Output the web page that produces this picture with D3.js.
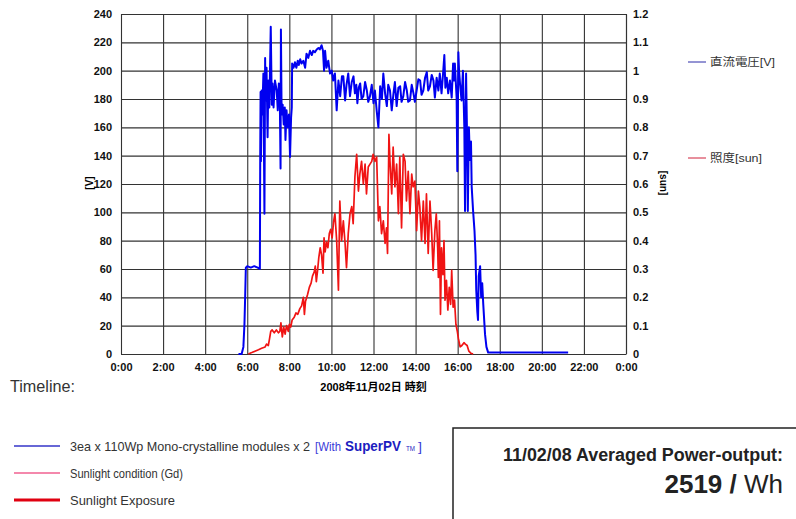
<!DOCTYPE html>
<html>
<head>
<meta charset="utf-8">
<script src="https://cdn.jsdelivr.net/npm/d3@7"></script>
<style>
  body { margin: 0; background: #fff; }
  svg { display: block; }
</style>
</head>
<body>
<div id="chart"></div>
<script>
// hour ticks (minutes from midnight) and their labels
const timeTicks = [0, 120, 240, 360, 480, 600, 720, 840, 960, 1080, 1200, 1320, 1440];
const timeLabels = ["0:00", "2:00", "4:00", "6:00", "8:00", "10:00", "12:00", "14:00", "16:00", "18:00", "20:00", "22:00", "0:00"];
const voltTicks = [0, 20, 40, 60, 80, 100, 120, 140, 160, 180, 200, 220, 240];
const sunTicks = [0, 0.1, 0.2, 0.3, 0.4, 0.5, 0.6, 0.7, 0.8, 0.9, 1, 1.1, 1.2];

// DC voltage [V], [minute, value]
const voltData = [
  [335, 0], [344, 0], [349, 5], [352, 21], [354, 40], [356, 61], [360, 62], [370, 61], [380, 62], [390, 61],
  [396, 60], [397, 140], [398, 185], [399, 136], [401, 186], [403, 169], [406, 198], [409, 99], [411, 209], [412, 179],
  [415, 202], [418, 153], [420, 193], [423, 174], [427, 231], [430, 176], [432, 191], [435, 174], [439, 193], [444, 186],
  [447, 172], [450, 191], [453, 176], [455, 131], [456, 229], [458, 169], [461, 176], [464, 162], [467, 174], [469, 151],
  [472, 172], [475, 160], [479, 169], [482, 139], [485, 167], [487, 174], [488, 205], [492, 202], [496, 206], [500, 202],
  [504, 207], [507, 204], [511, 208], [515, 205], [520, 207], [525, 202], [529, 212], [534, 209], [539, 214], [544, 211],
  [548, 214], [553, 213], [558, 215], [563, 216], [567, 215], [572, 218], [576, 214], [579, 200], [582, 214], [586, 202],
  [591, 207], [596, 198], [601, 200], [605, 193], [610, 198], [615, 172], [620, 193], [625, 182], [630, 196], [634, 196],
  [639, 179], [643, 190], [648, 198], [653, 182], [658, 192], [663, 196], [667, 184], [671, 190], [674, 177], [678, 188],
  [682, 191], [686, 180], [691, 182], [696, 192], [701, 186], [705, 178], [710, 182], [715, 190], [720, 177], [724, 186],
  [729, 172], [734, 160], [739, 189], [744, 180], [748, 198], [753, 184], [758, 175], [762, 190], [767, 186], [772, 172],
  [777, 184], [781, 192], [786, 175], [791, 188], [796, 189], [800, 178], [805, 182], [810, 192], [815, 186], [819, 178],
  [824, 179], [829, 190], [834, 184], [838, 178], [843, 186], [848, 194], [853, 193], [857, 183], [862, 186], [867, 195],
  [872, 199], [876, 186], [881, 189], [886, 197], [891, 193], [895, 181], [900, 195], [905, 186], [909, 198], [914, 184],
  [919, 200], [922, 211], [925, 188], [929, 195], [933, 184], [938, 193], [943, 181], [947, 205], [950, 193], [952, 205],
  [957, 181], [959, 129], [962, 213], [964, 200], [967, 190], [971, 179], [975, 200], [979, 160], [981, 101], [984, 198],
  [987, 150], [989, 101], [992, 160], [995, 137], [998, 150], [1000, 118], [1004, 101], [1008, 87], [1011, 70], [1013, 45],
  [1016, 30], [1018, 24], [1020, 55], [1024, 62], [1027, 40], [1030, 50], [1033, 35], [1038, 14], [1042, 5], [1047, 1],
  [1275, 1]
];

// irradiance [sun], [minute, value]
const sunData = [
  [363, 0], [373, 0.005], [382, 0.01], [392, 0.015], [401, 0.02], [411, 0.025], [415, 0.035], [420, 0.03], [423, 0.05], [427, 0.08],
  [431, 0.085], [437, 0.075], [443, 0.085], [449, 0.075], [453, 0.08], [456, 0.11], [460, 0.06], [464, 0.095], [468, 0.07], [472, 0.1],
  [477, 0.08], [480, 0.105], [484, 0.095], [488, 0.12], [494, 0.13], [499, 0.145], [504, 0.14], [510, 0.16], [515, 0.17], [520, 0.2],
  [523, 0.14], [526, 0.185], [532, 0.21], [537, 0.235], [542, 0.25], [546, 0.275], [551, 0.29], [554, 0.31], [557, 0.255], [561, 0.3],
  [564, 0.34], [568, 0.375], [572, 0.35], [576, 0.285], [579, 0.41], [582, 0.36], [586, 0.395], [590, 0.375], [594, 0.425], [598, 0.44],
  [602, 0.41], [606, 0.465], [610, 0.495], [615, 0.4], [620, 0.225], [624, 0.54], [629, 0.4], [634, 0.47], [639, 0.39], [643, 0.305],
  [648, 0.425], [653, 0.495], [658, 0.52], [662, 0.46], [667, 0.625], [672, 0.705], [677, 0.575], [681, 0.635], [686, 0.68], [691, 0.6],
  [696, 0.67], [700, 0.565], [705, 0.66], [710, 0.67], [715, 0.68], [719, 0.705], [724, 0.68], [729, 0.695], [734, 0.47], [738, 0.52],
  [743, 0.425], [748, 0.47], [753, 0.39], [757, 0.445], [760, 0.355], [764, 0.775], [767, 0.68], [772, 0.565], [776, 0.73], [781, 0.59],
  [786, 0.67], [791, 0.495], [795, 0.695], [800, 0.445], [805, 0.705], [810, 0.68], [814, 0.54], [819, 0.645], [824, 0.495], [829, 0.635],
  [833, 0.59], [838, 0.61], [843, 0.435], [848, 0.575], [852, 0.52], [857, 0.4], [862, 0.54], [867, 0.39], [871, 0.565], [876, 0.355],
  [881, 0.54], [886, 0.425], [890, 0.295], [895, 0.435], [899, 0.495], [903, 0.375], [905, 0.27], [908, 0.47], [911, 0.14], [914, 0.375],
  [918, 0.28], [921, 0.4], [924, 0.19], [928, 0.26], [932, 0.155], [936, 0.235], [940, 0.175], [943, 0.295], [947, 0.165], [951, 0.19],
  [955, 0.105], [959, 0.08], [962, 0.055], [967, 0.025], [972, 0.03], [978, 0.04], [982, 0.035], [987, 0.03], [992, 0.01], [998, 0.0025],
  [1004, 0]
];

const seriesNames = ["直流電圧[V]", "照度[sun]"];
const legendNotes = ["3ea x 110Wp Mono-crystalline modules x 2", "Sunlight condition (Gd)", "Sunlight  Exposure"];
const xTitle = "2008年11月02日 時刻";
const summaryTitle = "11/02/08 Averaged Power-output:";
const summaryValue = "2519";

const W = 796, H = 519;
const margin = { top: 14, right: 170, bottom: 165, left: 121 };
const plotW = W - margin.left - margin.right;
const plotH = H - margin.top - margin.bottom;

const font = "'Liberation Sans', Arial, sans-serif";
const cjk = "'Liberation Sans', 'Noto Sans CJK JP', sans-serif";

const svg = d3.select("#chart").append("svg")
  .attr("width", W)
  .attr("height", H)
  .style("font-family", font);

const g = svg.append("g").attr("transform", `translate(${margin.left},${margin.top})`);

const x = d3.scaleLinear([0, 1440], [0, plotW]);
const yL = d3.scaleLinear([0, 240], [plotH, 0]);
const yR = d3.scaleLinear([0, 1.2], [plotH, 0]);

// grid + axes
const left = g.append("g")
  .call(d3.axisLeft(yL).tickValues(voltTicks).tickSize(-plotW).tickPadding(9));
const bottom = g.append("g")
  .attr("transform", `translate(0,${plotH})`)
  .call(d3.axisBottom(x).tickValues(timeTicks).tickSize(-plotH).tickPadding(9)
    .tickFormat((d, i) => timeLabels[i]));
const right = g.append("g")
  .attr("transform", `translate(${plotW},0)`)
  .call(d3.axisRight(yR).tickValues(sunTicks).tickSize(0).tickPadding(7)
    .tickFormat(d => String(+d.toFixed(1))));

[left, bottom, right].forEach(a => {
  a.selectAll(".tick line").attr("stroke", "#333").attr("stroke-width", 1.1);
  a.selectAll(".domain").attr("stroke", "#333").attr("stroke-width", 1.1);
  a.selectAll("text")
    .attr("fill", "#111")
    .style("font-size", "11px")
    .style("font-weight", "bold")
    .style("font-family", font);
});
left.select(".domain").remove();
bottom.select(".domain").remove();

// axis titles
svg.append("text")
  .attr("transform", "translate(93,183) rotate(-90)")
  .attr("text-anchor", "middle")
  .style("font-size", "10px").style("font-weight", "bold")
  .text("[V]");
svg.append("text")
  .attr("transform", "translate(660,183) rotate(90)")
  .attr("text-anchor", "middle")
  .style("font-size", "10px").style("font-weight", "bold")
  .text("[sun]");
svg.append("text")
  .attr("x", margin.left + plotW / 2)
  .attr("y", 391)
  .attr("text-anchor", "middle")
  .style("font-family", cjk)
  .style("font-size", "11px").style("font-weight", "bold")
  .text(xTitle);

// series
const voltLine = d3.line().x(d => x(d[0])).y(d => yL(d[1]));
const sunLine = d3.line().x(d => x(d[0])).y(d => yR(d[1]));

g.append("path")
  .datum(voltData)
  .attr("d", voltLine)
  .attr("fill", "none")
  .attr("stroke", "#0000f0")
  .attr("stroke-width", 2)
  .attr("stroke-linejoin", "round");

g.append("path")
  .datum(sunData)
  .attr("d", sunLine)
  .attr("fill", "none")
  .attr("stroke", "#f01414")
  .attr("stroke-width", 1.7)
  .attr("stroke-linejoin", "round");

// series legend (right)
const legendColors = ["#2a2aa8", "#d0203a"];
const legendY = [62, 158];
const legendLen = [65, 52];
seriesNames.forEach((name, i) => {
  svg.append("line")
    .attr("x1", 688).attr("x2", 706)
    .attr("y1", legendY[i]).attr("y2", legendY[i])
    .attr("stroke", legendColors[i]).attr("stroke-width", 1);
  svg.append("text")
    .attr("x", 710).attr("y", legendY[i] + 4)
    .style("font-family", cjk)
    .style("font-size", "11px")
    .attr("fill", "#333")
    .attr("textLength", legendLen[i]).attr("lengthAdjust", "spacingAndGlyphs")
    .text(name);
});

// notes below
svg.append("text")
  .attr("x", 10).attr("y", 392)
  .style("font-size", "16px")
  .attr("fill", "#333")
  .attr("textLength", 65).attr("lengthAdjust", "spacingAndGlyphs")
  .text("Timeline:");

const noteColors = ["#3535c8", "#f06090", "#e00010"];
const noteWidths = [1.5, 1.5, 3];
const noteY = [446, 473, 500];
const noteLen = [240, 113, 105];
noteY.forEach((yy, i) => {
  svg.append("line")
    .attr("x1", 14).attr("x2", 60)
    .attr("y1", yy).attr("y2", yy)
    .attr("stroke", noteColors[i]).attr("stroke-width", noteWidths[i]);
  svg.append("text")
    .attr("x", 70).attr("y", yy + 5)
    .style("font-size", "13px")
    .attr("fill", "#333")
    .attr("textLength", noteLen[i]).attr("lengthAdjust", "spacingAndGlyphs")
    .text(legendNotes[i]);
});

// "[With SuperPV(TM)]" pieces of the first note
const brand = [
  { t: "[With", x0: 315, len: 26, size: 13, bold: false, c: "#3a3ad8" },
  { t: "SuperPV", x0: 345, len: 56, size: 15, bold: true, c: "#1c1cc0" },
  { t: "TM", x0: 406, len: 9, size: 7, bold: false, c: "#1c1cc0" },
  { t: "]", x0: 418, len: 4, size: 13, bold: false, c: "#3a3ad8" }
];
brand.forEach(b => {
  svg.append("text")
    .attr("x", b.x0).attr("y", noteY[0] + 5)
    .style("font-size", b.size + "px")
    .style("font-weight", b.bold ? "bold" : "normal")
    .attr("fill", b.c)
    .attr("textLength", b.len).attr("lengthAdjust", "spacingAndGlyphs")
    .text(b.t);
});

// summary box
svg.append("rect")
  .attr("x", 453).attr("y", 428)
  .attr("width", 400).attr("height", 200)
  .attr("fill", "none")
  .attr("stroke", "#222").attr("stroke-width", 1.5);
svg.append("text")
  .attr("x", 783).attr("y", 461)
  .attr("text-anchor", "end")
  .style("font-size", "18px").style("font-weight", "bold")
  .attr("fill", "#222")
  .attr("textLength", 280).attr("lengthAdjust", "spacingAndGlyphs")
  .text(summaryTitle);
const sv = svg.append("text")
  .attr("x", 783).attr("y", 493)
  .attr("text-anchor", "end")
  .style("font-size", "26px")
  .attr("fill", "#222");
sv.append("tspan").style("font-weight", "bold").text(summaryValue + " / ");
sv.append("tspan").text("Wh");
</script>
</body>
</html>
